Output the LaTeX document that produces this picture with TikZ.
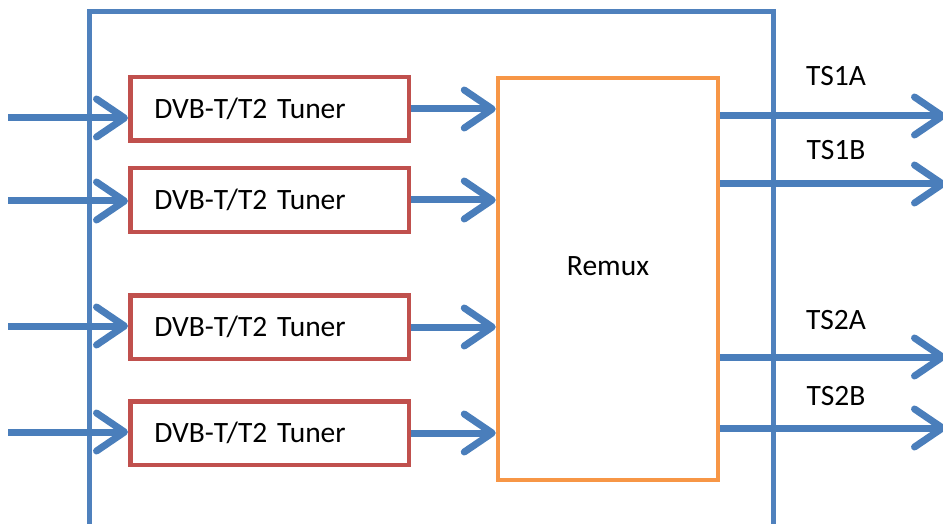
\documentclass[tikz,border=0pt]{standalone}
\usepackage{fontspec}
\setmainfont{Carlito}
\usetikzlibrary{positioning,arrows.meta}
\definecolor{tunerred}{HTML}{C0504D}
\definecolor{remuxorange}{HTML}{F79646}
\definecolor{framblue}{HTML}{4F81BD}
\definecolor{flowblue}{HTML}{4A7EBB}
\tikzstyle{tuner} = [rectangle, draw=tunerred, line width=4.5pt, text width=230.5pt, align=left, inner xsep=24pt, inner ysep=0pt, minimum height=63.5pt]
\tikzstyle{remuxblock} = [rectangle, draw=remuxorange, line width=4.5pt, inner sep=0pt, minimum width=220pt, minimum height=402pt]
\tikzstyle{flow} = [draw=flowblue, line width=7pt, -{Straight Barb[length=28pt,width=38pt,round]}]
\tikzstyle{tslabel} = [inner sep=0pt]

\begin{document}
\begin{tikzpicture}[x=1pt, y=-1pt, node distance = 23pt, font=\fontsize{29.5}{35}\selectfont]
        \useasboundingbox (0,0) rectangle (943,524);

        % outer frame
        \draw [framblue, line width=5pt] (89,530) -- (89,12) -- (773,12) -- (773,530);

        \node [tuner] (tuner1) at (269.5,109) {DVB-T/T2 Tuner};
        \node [tuner, below = of tuner1] (tuner2) {DVB-T/T2 Tuner};
        \node [tuner, below = 59pt of tuner2] (tuner3) {DVB-T/T2 Tuner};
        \node [tuner, below = 38pt of tuner3] (tuner4) {DVB-T/T2 Tuner};
        \node [remuxblock, label={[yshift=13pt]center:Remux}] (remux) at (608,279) {};

        % inputs
        \coordinate (in1) at (8,118);
        \coordinate (in2) at (8,201);
        \coordinate (in3) at (8,326);
        \coordinate (in4) at (8,432);
        \draw [flow] (in1) -- (in1 -| tuner1.west);
        \draw [flow] (in2) -- (in2 -| tuner2.west);
        \draw [flow] (in3) -- (in3 -| tuner3.west);
        \draw [flow] (in4) -- (in4 -| tuner4.west);

        % tuners to remux
        \draw [flow] (tuner1.east) -- (tuner1.east -| remux.west);
        \draw [flow] (tuner2.east) -- (tuner2.east -| remux.west);
        \draw [flow] (tuner3.east) -- (tuner3.east -| remux.west);
        \draw [flow] (tuner4.east) -- (tuner4.east -| remux.west);

        % outputs
        \coordinate (out1) at (946,116);
        \coordinate (out2) at (946,184);
        \coordinate (out3) at (946,357);
        \coordinate (out4) at (946,428);
        \draw [flow] (remux.east |- out1) -- (out1);
        \draw [flow] (remux.east |- out2) -- (out2);
        \draw [flow] (remux.east |- out3) -- (out3);
        \draw [flow] (remux.east |- out4) -- (out4);

        \node [tslabel] (ts1a) at (836,76) {TS1A};
        \node [tslabel] (ts1b) at (836,150) {TS1B};
        \node [tslabel] (ts2a) at (836,320) {TS2A};
        \node [tslabel] (ts2b) at (836,396) {TS2B};
\end{tikzpicture}
\end{document}
